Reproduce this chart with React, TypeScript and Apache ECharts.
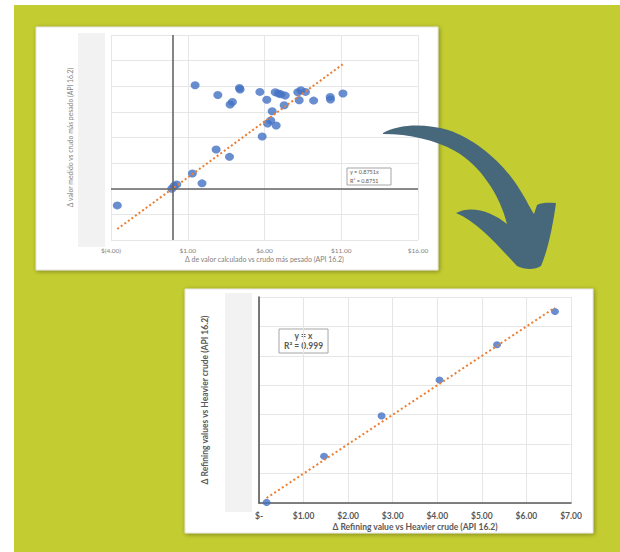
import React, { useEffect, useRef } from "react";
import * as echarts from "echarts";

// ---- Chart 1 (Spanish): measured vs calculated value delta ----
const calcX = [-3.59, -0.04, 0.11, 0.28, 1.30, 1.93, 2.85, 3.72, 1.48, 2.96, 3.76, 3.91, 4.37, 4.41, 5.70, 5.85, 6.15, 6.20, 6.41, 6.50, 6.76, 6.70, 6.91, 7.07, 7.35, 7.28, 8.17, 8.37, 8.67, 8.26, 9.20, 10.28, 10.30, 11.11];
const measY = [-1.30, 0.00, 0.21, 0.34, 1.19, 0.42, 3.06, 2.49, 8.08, 7.32, 6.57, 6.78, 7.87, 7.74, 7.56, 4.08, 6.94, 5.09, 5.32, 6.05, 4.94, 7.53, 7.43, 7.38, 7.27, 6.52, 7.53, 7.69, 7.56, 6.91, 6.88, 7.17, 6.96, 7.43];
const slope1 = 0.8751;
const eq1Lines = ["y = 0.8751x", "R² = 0.8751"];
const x1Ticks = [-4, 1, 6, 11, 16];
const x1Title = "Δ de valor calculado vs crudo más pesado (API 16.2)";
const y1Title = "Δ valor medido vs crudo más pesado (API 16.2)";

// ---- Chart 2 (English): refining values ----
const refX = [0.17, 1.46, 2.75, 4.05, 5.34, 6.64];
const refY = [0.02, 1.59, 2.96, 4.18, 5.38, 6.51];
const slope2 = 1;
const eq2Lines = ["y = x", "R² = 0.999"];
const x2Ticks = [0, 1, 2, 3, 4, 5, 6, 7];
const x2Title = "Δ Refining value vs Heavier crude (API 16.2)";
const y2Title = "Δ Refining values vs Heavier crude (API 16.2)";

const ARROW_D =
  "M383,133 C398,124 425,123 448,130 C478,140 505,165 520,190 C527,201 531,210 534,214 L537,205 C543,202 550,203 556,203 C553,225 548,250 541,266 C535,270 525,270 517,266 C500,248 478,222 456,213 C472,205 492,212 507,224 C500,195 480,165 455,151 C435,140 410,134 383,134 Z";

let registered = false;

function money1(v: number) {
  return v < 0 ? `$(${Math.abs(v).toFixed(2)})` : `$${v.toFixed(2)}`;
}
function money2(v: number) {
  return v === 0 ? "$-" : `$${v.toFixed(2)}`;
}

export default function App() {
  const ref = useRef<HTMLDivElement>(null);
  useEffect(() => {
    if (!ref.current) return;
    if (!registered) {
      echarts.graphic.registerShape("bigArrow", echarts.graphic.extendPath(ARROW_D, {}) as any);
      registered = true;
    }
    const chart = echarts.init(ref.current, undefined, { renderer: "svg" });
    const d1 = calcX.map((x, i) => [x, measY[i]]);
    const d2 = refX.map((x, i) => [x, refY[i]]);
    const t1min = Math.min(...calcX), t1max = Math.max(...calcX);
    const t2min = Math.min(...refX), t2max = Math.max(...refX);
    const font = "Lato, 'Liberation Sans', sans-serif";
    const grid = { lineStyle: { color: "#e6e6e6", width: 1 } };

    chart.setOption({
      animation: false,
      textStyle: { fontFamily: font },
      grid: [
        { left: 111, top: 35, width: 307, height: 205 },
        { left: 259, top: 297, width: 312, height: 206 },
      ],
      xAxis: [
        {
          gridIndex: 0, type: "value", min: x1Ticks[0], max: x1Ticks[x1Ticks.length - 1], interval: 5,
          axisLine: { show: false }, axisTick: { show: false }, splitLine: { show: true, ...grid },
          axisLabel: { formatter: money1, fontSize: 6.5, color: "#7f7f7f", margin: 7, fontFamily: font },
          name: x1Title, nameLocation: "middle", nameGap: 15,
          nameTextStyle: { fontSize: 7, color: "#7f7f7f", fontFamily: font },
        },
        {
          gridIndex: 1, type: "value", min: x2Ticks[0], max: x2Ticks[x2Ticks.length - 1], interval: 1,
          axisLine: { show: true, lineStyle: { color: "#595959", width: 1.6 } }, axisTick: { show: false },
          splitLine: { show: true, ...grid },
          axisLabel: { formatter: money2, fontSize: 8.5, fontWeight: "bold", color: "#595959", margin: 8, fontFamily: font },
          name: x2Title, nameLocation: "middle", nameGap: 19,
          nameTextStyle: { fontSize: 8.5, fontWeight: "bold", color: "#595959", fontFamily: font },
        },
      ],
      yAxis: [
        {
          gridIndex: 0, type: "value", min: -4, max: 12, interval: 2,
          axisLine: { show: false }, axisTick: { show: false }, axisLabel: { show: false },
          splitLine: { show: true, ...grid },
          name: y1Title, nameLocation: "middle", nameGap: 38,
          nameTextStyle: { fontSize: 6.8, color: "#7f7f7f", fontFamily: font },
        },
        {
          gridIndex: 1, type: "value", min: 0, max: 7, interval: 1,
          axisLine: { show: true, lineStyle: { color: "#595959", width: 1.6 } }, axisTick: { show: false },
          axisLabel: { show: false }, splitLine: { show: true, ...grid },
          name: y2Title, nameLocation: "middle", nameGap: 50,
          nameTextStyle: { fontSize: 8.5, fontWeight: "bold", color: "#595959", fontFamily: font },
        },
      ],
      series: [
        {
          type: "scatter", xAxisIndex: 0, yAxisIndex: 0, data: d1, symbolSize: [9, 8],
          itemStyle: { color: "#4472c4" }, z: 3,
          markLine: {
            silent: true, symbol: ["none", "none"], label: { show: false },
            lineStyle: { color: "#666666", width: 1.6, type: "solid" },
            data: [{ xAxis: 0 }, { yAxis: 0 }],
          },
        },
        {
          type: "line", xAxisIndex: 0, yAxisIndex: 0, showSymbol: false, symbol: "none", z: 4,
          data: [[t1min, slope1 * t1min], [t1max, slope1 * t1max]],
          lineStyle: { color: "#ed7d31", width: 2, type: [2, 2.4] },
        },
        {
          type: "scatter", xAxisIndex: 1, yAxisIndex: 1, data: d2, symbolSize: [8, 7],
          itemStyle: { color: "#4472c4" }, z: 3,
        },
        {
          type: "line", xAxisIndex: 1, yAxisIndex: 1, showSymbol: false, symbol: "none", z: 4,
          data: [[t2min, slope2 * t2min], [t2max, slope2 * t2max]],
          lineStyle: { color: "#ed7d31", width: 2, type: [2, 2.6] },
        },
      ],
      graphic: [
        { type: "rect", z: -10, shape: { x: 14, y: 5, width: 606, height: 547 }, style: { fill: "#c3cc30" }, silent: true },
        {
          type: "rect", z: -9, shape: { x: 36, y: 27, width: 402, height: 243 },
          style: { fill: "#ffffff", stroke: "#e2e2e2", lineWidth: 1, shadowBlur: 4, shadowColor: "rgba(0,0,0,0.35)", shadowOffsetX: 1, shadowOffsetY: 1 },
          silent: true,
        },
        {
          type: "rect", z: -9, shape: { x: 185, y: 289, width: 408, height: 244 },
          style: { fill: "#ffffff", stroke: "#e2e2e2", lineWidth: 1, shadowBlur: 4, shadowColor: "rgba(0,0,0,0.35)", shadowOffsetX: 1, shadowOffsetY: 1 },
          silent: true,
        },
        { type: "rect", z: -8, shape: { x: 78, y: 33, width: 27, height: 214 }, style: { fill: "#f2f2f2" }, silent: true },
        { type: "rect", z: -8, shape: { x: 225, y: 293, width: 27, height: 219 }, style: { fill: "#f2f2f2" }, silent: true },
        {
          type: "group", z: 50, silent: true,
          children: [
            { type: "rect", shape: { x: 347, y: 168, width: 44, height: 17 }, style: { fill: "#ffffff", stroke: "#a6a6a6", lineWidth: 1 } },
            { type: "text", x: 350, y: 172, style: { text: eq1Lines[0], fontSize: 5.5, fill: "#595959", fontFamily: font, textVerticalAlign: "middle" } },
            { type: "text", x: 350, y: 180.5, style: { text: eq1Lines[1], fontSize: 5.5, fill: "#595959", fontFamily: font, textVerticalAlign: "middle" } },
          ],
        },
        {
          type: "group", z: 50, silent: true,
          children: [
            { type: "rect", shape: { x: 279, y: 329, width: 49, height: 24 }, style: { fill: "#ffffff", stroke: "#a6a6a6", lineWidth: 1 } },
            { type: "text", x: 303.5, y: 336, style: { text: eq2Lines[0], fontSize: 8.5, fontWeight: "bold", fill: "#595959", fontFamily: font, textAlign: "center", textVerticalAlign: "middle" } },
            { type: "text", x: 303.5, y: 346, style: { text: eq2Lines[1], fontSize: 8.5, fontWeight: "bold", fill: "#595959", fontFamily: font, textAlign: "center", textVerticalAlign: "middle" } },
          ],
        },
        { type: "bigArrow", z: 60, x: 0, y: 0, silent: true, style: { fill: "#46687a" } },
      ],
    });
    return () => chart.dispose();
  }, []);
  return (
    <div
      ref={ref}
      style={{ position: "absolute", left: 0, top: 0, width: 620, height: 552, background: "#ffffff" }}
    />
  );
}
